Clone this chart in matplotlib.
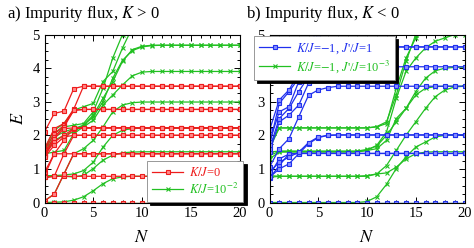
import matplotlib
matplotlib.use("Agg")
from matplotlib import pyplot as plt
from matplotlib.ticker import MultipleLocator

plt.rcParams["font.family"] = ["Liberation Serif", "DejaVu Serif"]
plt.rcParams["mathtext.fontset"] = "stix"

N = list(range(21))

# panel a: K > 0
red_a = [
    [2.10, 2.65, 2.72, 3.39, 3.46] + [3.46] * 16,
    [1.60, 2.20, 2.35, 2.78, 3.46] + [3.46] * 16,
    [1.55, 2.05, 2.30, 2.75, 2.77] + [2.77] * 16,
    [1.45, 1.95, 2.25, 2.74, 2.77] + [2.77] * 16,
    [1.40, 1.90, 2.20, 2.22, 2.22] + [2.22] * 16,
    [1.40, 1.80, 2.00, 2.20, 2.22] + [2.22] * 16,
    [1.35, 1.70, 1.95, 2.00, 2.00] + [2.00] * 16,
    [0.90, 1.45, 1.85, 2.22, 2.22] + [2.22] * 16,
    [0.80, 1.45, 1.45, 1.45, 1.45] + [1.45] * 16,
    [0.75, 0.78, 1.45, 2.00, 2.00] + [2.00] * 16,
    [0.75, 0.78, 0.78, 0.78, 0.78] + [0.78] * 16,
    [0.05, 0.25, 0.85, 1.45, 1.45] + [1.45] * 16,
    [0.00] * 21,
]
green_a = [
    [0.00] * 21,
    [0.00, 0.01, 0.02, 0.07, 0.17, 0.35, 0.56, 0.71, 0.76, 0.78] + [0.78] * 11,
    [0.75, 0.78, 0.78, 0.76, 0.81, 1.01, 1.26, 1.41, 1.48, 1.50, 1.51] + [1.51] * 10,
    [0.80, 0.80, 0.82, 0.85, 0.95, 1.20, 1.65, 2.00, 2.15, 2.20, 2.21] + [2.21] * 10,
    [0.05, 0.25, 0.85, 1.45, 1.60, 1.85, 2.25, 2.70, 2.90, 2.97, 2.99] + [2.99] * 10,
    [1.45, 1.50, 1.55, 2.05, 2.25, 2.45, 2.90, 3.20, 3.50, 3.77, 3.88, 3.90] + [3.90] * 9,
    [1.40, 1.85, 2.00, 2.10, 2.30, 2.55, 3.00, 3.70, 4.23, 4.52, 4.63, 4.67] + [4.68] * 9,
    [1.50, 1.95, 2.10, 2.20, 2.30, 2.60, 3.10, 3.60, 4.20, 4.55, 4.65, 4.68] + [4.68] * 9,
    [1.55, 2.05, 2.25, 2.30, 2.35, 2.70, 3.40, 4.30, 5.00, 5.60, 6.00] + [6.00] * 10,
    [1.60, 2.15, 2.35, 2.75, 2.85, 2.95, 3.60, 3.90, 4.60, 5.20, 5.80] + [6.00] * 10,
]

# panel b: K < 0
blue_b = [
    [0.00] * 21,
    [0.72, 1.10, 1.45, 1.46] + [1.46] * 17,
    [0.80, 1.30, 1.44, 1.46] + [1.46] * 17,
    [0.75, 1.00, 1.15, 1.45, 1.75, 1.93, 2.00, 2.01] + [2.01] * 13,
    [0.90, 1.20, 1.35, 1.50, 1.78, 1.95, 2.00] + [2.01] * 14,
    [1.05, 1.60, 1.90, 2.55, 3.19, 3.35, 3.42, 3.46] + [3.46] * 13,
    [1.50, 2.40, 2.60, 2.90, 3.55, 3.85, 4.00, 4.03] + [4.04] * 13,
    [1.60, 2.50, 2.80, 3.30, 3.75, 4.10, 4.40, 4.55, 4.60] + [4.63] * 12,
    [1.80, 2.70, 2.85, 3.60, 4.20, 4.50, 4.60] + [4.63] * 14,
    [1.70, 2.95, 3.30, 3.70, 4.40, 5.00, 5.40] + [5.50] * 14,
    [2.15, 3.05, 3.35, 3.85, 4.60, 5.20] + [5.60] * 15,
]
green_b = [
    [0.00] * 21,
    [0.00] * 10 + [0.03, 0.17, 0.54, 1.01, 1.36, 1.65, 1.80, 1.95, 2.00, 2.01, 2.01],
    [0.75] + [0.78] * 10 + [0.85, 0.88, 1.05, 1.30, 1.45, 1.50, 1.51, 1.51, 1.51, 1.51],
    [0.80] + [0.78] * 9 + [0.80, 0.85, 1.10, 1.55, 2.00, 2.40, 2.80, 3.15, 3.35, 3.44, 3.46],
    [1.40] + [1.52] * 9 + [1.55, 1.60, 1.85, 2.50, 2.80, 3.20, 3.40, 3.45, 3.46, 3.46, 3.46],
    [1.50] + [1.53] * 9 + [1.58, 1.68, 2.00, 2.40, 2.80, 3.30, 3.70, 3.92, 4.00, 4.02, 4.03],
    [1.30] + [1.50] * 9 + [1.55, 1.70, 2.10, 3.10, 3.90, 4.30, 4.60, 4.80, 4.90, 5.00, 5.00],
    [1.60] + [2.22] * 10 + [2.25, 2.35, 3.40, 4.30, 4.90, 5.30, 5.60, 5.80, 5.90, 6.00],
    [1.70] + [2.22] * 10 + [2.26, 2.40, 3.20, 4.20, 5.00, 5.50, 5.80, 6.00, 6.00, 6.00],
]

RED = "#ee1c1c"
GREEN = "#22c022"
BLUE = "#2030ee"


def draw(ax, series, color, marker, mfc):
    h = None
    for s in series:
        h, = ax.plot(N, s, color=color, lw=0.9, marker=marker, ms=3.2,
                     mec=color, mfc=mfc, mew=0.8)
    return h


def style(ax):
    ax.set_xlim(0, 20)
    ax.set_ylim(0, 5)
    ax.xaxis.set_major_locator(MultipleLocator(5))
    ax.xaxis.set_minor_locator(MultipleLocator(1))
    ax.yaxis.set_major_locator(MultipleLocator(1))
    ax.yaxis.set_minor_locator(MultipleLocator(0.25))
    ax.tick_params(which="both", direction="in", top=True, right=True,
                   labelsize=10.5, width=0.7)
    ax.tick_params(which="major", length=4)
    ax.tick_params(which="minor", length=2)
    ax.set_xlabel("$N$", fontsize=13, labelpad=6)
    for sp in ax.spines.values():
        sp.set_linewidth(0.8)


def legend(fig, handles, labels, colors, x, y):
    leg = fig.legend(handles, labels, loc="upper left",
                     bbox_to_anchor=(x / W, 1 - y / H), fontsize=9,
                     handlelength=2.5, handletextpad=0.45, fancybox=False,
                     edgecolor="#888888", framealpha=1,
                     shadow={"color": "black", "alpha": 1, "ox": 2.5, "oy": -2.5},
                     borderaxespad=0, labelspacing=0.2, borderpad=0.4)
    leg.get_frame().set_linewidth(0.6)
    for t, c in zip(leg.get_texts(), colors):
        t.set_color(c)
    return leg


W, H = 474, 248
fig = plt.figure(figsize=(W / 100, H / 100), dpi=100)
ax1 = fig.add_axes([44.5 / W, (H - 202.5) / H, 195 / W, 168 / H])
ax2 = fig.add_axes([269.5 / W, (H - 202.5) / H, 195 / W, 168 / H])

hg = draw(ax1, green_a, GREEN, "x", GREEN)
hr = draw(ax1, red_a, RED, "s", "#ff8888")
style(ax1)
ax1.set_ylabel("$E$", fontsize=13, labelpad=4)

hg2 = draw(ax2, green_b, GREEN, "x", GREEN)
hb = draw(ax2, blue_b, BLUE, "s", "#8890ff")
style(ax2)

legend(fig, [hr, hg], ["$K/J$=0", "$K/J$=10$^{-2}$"], [RED, GREEN], 147, 161)
legend(fig, [hb, hg2],
       ["$K/J$=$-$1, $J$'/$J$=1", "$K/J$=$-$1, $J$'/$J$=10$^{-3}$"],
       [BLUE, GREEN], 254, 36)

fig.text(7 / W, 1 - 14 / H, "a) Impurity flux, $K$ > 0", fontsize=12, va="center")
fig.text(246 / W, 1 - 14 / H, "b) Impurity flux, $K$ < 0", fontsize=12, va="center")

fig.savefig("out.png", dpi=100)
